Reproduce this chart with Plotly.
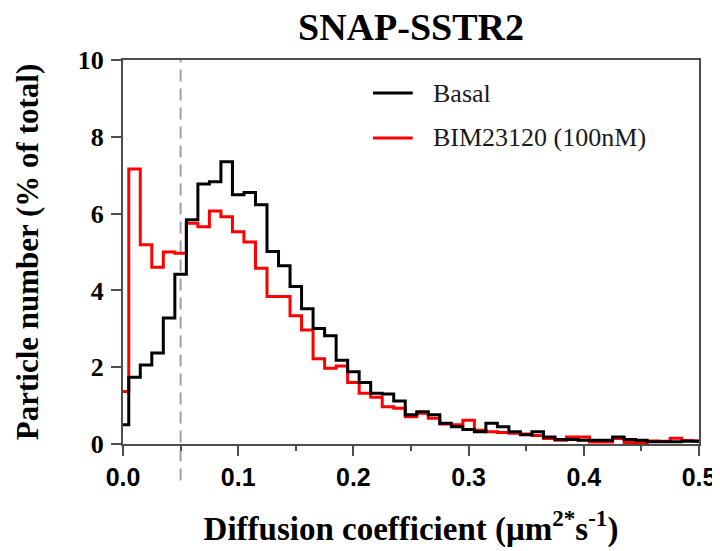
import numpy as np
import plotly.graph_objects as go

# Bin centres of the diffusion-coefficient histogram (µm²/s)
bin_centers = np.round(np.arange(0, 0.501, 0.01), 2)

basal_name = "Basal"
basal = [0.50, 1.74, 2.06, 2.37, 3.28, 4.42, 5.84, 6.77, 6.83, 7.35,
         6.49, 6.55, 6.23, 5.01, 4.64, 4.10, 3.52, 3.01, 2.82, 2.18,
         1.88, 1.60, 1.32, 1.30, 1.12, 0.76, 0.84, 0.76, 0.54, 0.45,
         0.38, 0.32, 0.54, 0.45, 0.32, 0.24, 0.32, 0.18, 0.12, 0.12,
         0.10, 0.10, 0.10, 0.18, 0.12, 0.10, 0.06, 0.06, 0.06, 0.07,
         0.07]

bim_name = "BIM23120 (100nM)"
bim = [1.37, 7.16, 5.19, 4.60, 5.00, 4.97, 5.75, 5.66, 6.07, 5.92,
       5.53, 5.26, 4.58, 3.84, 3.84, 3.34, 2.97, 2.22, 1.97, 2.03,
       1.60, 1.32, 1.22, 0.97, 0.93, 0.71, 0.80, 0.67, 0.52, 0.50,
       0.62, 0.36, 0.32, 0.30, 0.28, 0.26, 0.22, 0.14, 0.10, 0.18,
       0.18, 0.05, 0.05, 0.14, 0.04, 0.04, 0.08, 0.07, 0.15, 0.09,
       0.08]

threshold = 0.05
x_ticks = [0.0, 0.1, 0.2, 0.3, 0.4, 0.5]
y_ticks = [0, 2, 4, 6, 8, 10]

SERIF = "Liberation Serif, Times New Roman, serif"
SANS = "Liberation Sans, Arial, sans-serif"
AXIS_COL = "#4d4d4d"

fig = go.Figure()
fig.add_trace(go.Scatter(x=bin_centers, y=bim, mode="lines", name=bim_name,
                         line=dict(color="#ff0000", width=3, shape="hvh"),
                         showlegend=False))
fig.add_trace(go.Scatter(x=bin_centers, y=basal, mode="lines", name=basal_name,
                         line=dict(color="#000000", width=3, shape="hvh"),
                         showlegend=False))

# threshold dashed line (extends slightly below the axis as in the original)
fig.add_shape(type="line", xref="x", yref="paper", x0=threshold, x1=threshold,
              y0=-0.095, y1=1, line=dict(color="#a0a0a0", width=2, dash="12px,7px"),
              layer="below")

# manual legend
for name, col, yy in [(basal_name, "#000000", 0.914), (bim_name, "#ff0000", 0.797)]:
    fig.add_shape(type="line", xref="paper", yref="paper", x0=0.434, x1=0.503,
                  y0=yy, y1=yy, line=dict(color=col, width=3))
    fig.add_annotation(xref="paper", yref="paper", x=0.535, y=yy, text=name,
                       showarrow=False, xanchor="left", yanchor="middle",
                       font=dict(family=SERIF, size=26, color="#1a1a1a"))

# the page adds an 8px body margin, so the figure is sized to fit inside it
fig.update_layout(
    width=712, height=543,
    margin=dict(l=115, r=21, t=52, b=107, autoexpand=False),
    paper_bgcolor="white", plot_bgcolor="white",
    title=dict(text="<b>SNAP-SSTR2</b>", x=0.5, xref="paper", y=0.966,
               yref="container", yanchor="middle", xanchor="center",
               automargin=False,
               font=dict(family=SERIF, size=38, color="black")),
    showlegend=False,
)
fig.update_xaxes(
    range=[0, 0.5], tickvals=x_ticks, ticktext=[f"<b>{v:.1f}</b>" for v in x_ticks],
    ticks="outside", ticklen=10, tickwidth=2, tickcolor=AXIS_COL,
    minor=dict(dtick=0.05, tick0=0, ticks="outside", ticklen=5, tickwidth=2, tickcolor=AXIS_COL),
    showline=True, linewidth=2, linecolor=AXIS_COL, mirror=True,
    showgrid=False, zeroline=False, automargin=False,
    tickfont=dict(family=SANS, size=25, color="black"),
    title=dict(text="<b>Diffusion coefficient (μm<sup>2*</sup>s<sup>-1</sup>)</b>",
               font=dict(family=SERIF, size=33, color="black"), standoff=27),
)
fig.update_yaxes(
    range=[0, 10], tickvals=y_ticks, ticktext=[f"<b>{v}</b>" for v in y_ticks],
    ticks="outside", ticklen=10, tickwidth=2, tickcolor=AXIS_COL,
    showline=True, linewidth=2, linecolor=AXIS_COL, mirror=True,
    showgrid=False, zeroline=False, ticklabelstandoff=2, automargin=False,
    tickfont=dict(family=SERIF, size=26, color="black"),
    title=dict(text="<b>Particle number (% of total)</b>",
               font=dict(family=SERIF, size=31, color="black"), standoff=30),
)

fig.write_html("out.html")
